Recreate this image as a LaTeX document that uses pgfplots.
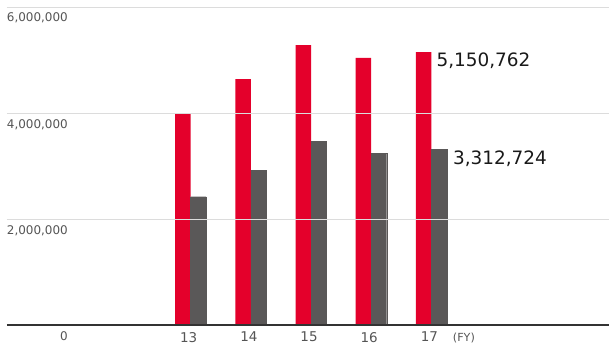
\documentclass[border=0pt]{standalone}
\usepackage{pgfplots}
\pgfplotsset{compat=1.18}
\usepackage{fontspec}
\setmainfont{DejaVu Sans}
\definecolor{barred}{RGB}{228,0,43}
\definecolor{bargray}{RGB}{90,88,88}
\definecolor{gridc}{RGB}{220,220,220}
\definecolor{tickc}{RGB}{85,85,85}
\tikzset{
  ylab/.style={anchor=north east, inner sep=0pt, text=tickc, font=\fontsize{12}{12}\selectfont},
  xlab/.style={anchor=north, inner sep=0pt, text=tickc, font=\fontsize{13.5}{13.5}\selectfont},
  dlab/.style={anchor=north west, inner sep=0pt, text=black!90, font=\fontsize{18.5}{18.5}\selectfont},
}
\begin{document}
\begin{tikzpicture}
\begin{axis}[
  scale only axis,
  width=602bp, height=318bp,
  xmin=-3.05, xmax=6.95,
  ymin=0, ymax=6000000,
  hide axis,
  ybar=0pt, bar width=15.5bp,
  clip=false,
]
\addplot[draw=none, fill=barred] coordinates {(0,3980000) (1,4640000) (2,5280000) (3,5040000) (4,5150762)};
\addplot[draw=bargray, line width=0.4bp, fill=bargray] coordinates {(0,2420000) (1,2920000) (2,3470000) (3,3245000) (4,3312724)};
% grid and baseline
\draw[gridc, line width=0.9bp] (axis cs:-3.05,2000000) -- (axis cs:6.95,2000000);
\draw[gridc, line width=0.9bp] (axis cs:-3.05,4000000) -- (axis cs:6.95,4000000);
\draw[gridc, line width=0.9bp] (axis cs:-3.05,6000000) -- (axis cs:6.95,6000000);
\draw[black!80, line width=1.5bp] (axis cs:-3.05,0) -- (axis cs:6.95,0);
% y labels
\node[ylab] at ([xshift=61bp,yshift=-6bp]axis cs:-3.05,0) {0};
\node[ylab] at ([xshift=61bp,yshift=-6bp]axis cs:-3.05,2000000) {2,000,000};
\node[ylab] at ([xshift=61bp,yshift=-6bp]axis cs:-3.05,4000000) {4,000,000};
\node[ylab] at ([xshift=61bp,yshift=-5bp]axis cs:-3.05,6000000) {6,000,000};
% x labels
\node[xlab] at ([xshift=-2bp,yshift=-7bp]axis cs:0,0) {13};
\node[xlab] at ([xshift=-2bp,yshift=-7bp]axis cs:1,0) {14};
\node[xlab] at ([xshift=-2bp,yshift=-7bp]axis cs:2,0) {15};
\node[xlab] at ([xshift=-2bp,yshift=-7bp]axis cs:3,0) {16};
\node[xlab] at ([xshift=-2bp,yshift=-7bp]axis cs:4,0) {17};
\node[anchor=north, inner sep=0pt, text=tickc, font=\fontsize{11.2}{11.2}\selectfont]
    at ([yshift=-8bp]axis cs:4.54,0) {(FY)};
% data labels
\node[dlab] at ([xshift=5bp,yshift=-1bp]axis cs:4,5150762) {5,150,762};
\node[dlab] at ([xshift=21.5bp,yshift=-1bp]axis cs:4,3312724) {3,312,724};
\coordinate (bl) at ([xshift=-7bp,yshift=-22bp]axis cs:-3.05,0);
\coordinate (tr) at ([yshift=7bp]axis cs:6.95,6000000);
\end{axis}
\pgfresetboundingbox
\path[use as bounding box] (bl) rectangle (tr);
\end{tikzpicture}
\end{document}
